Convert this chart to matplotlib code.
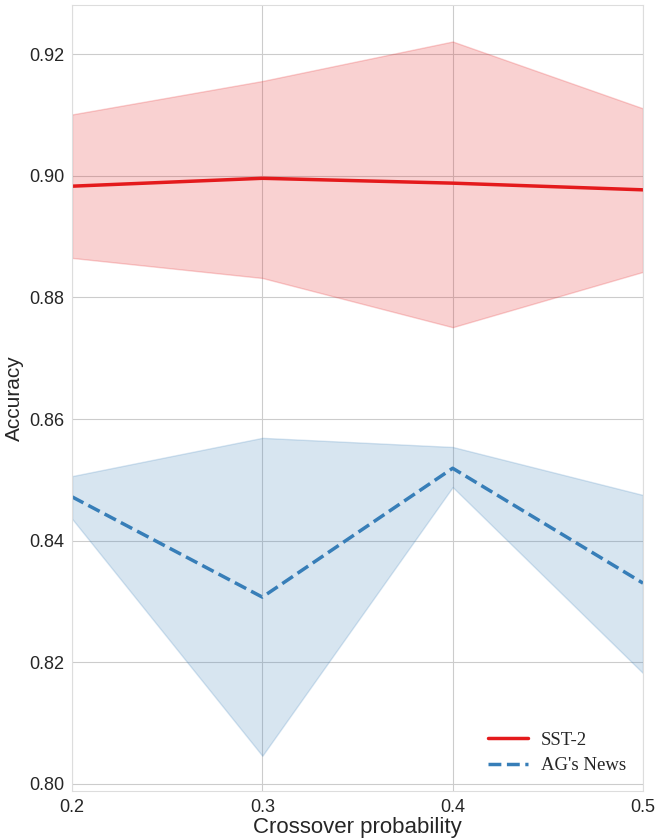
import matplotlib
matplotlib.use('Agg')
import matplotlib.pyplot as plt
import seaborn as sns

sns.set_style('whitegrid')
plt.rcParams['font.family'] = ['Liberation Sans', 'DejaVu Sans']

# Data
prob = [0.2, 0.3, 0.4, 0.5]

sst2_mean = [0.8983, 0.8996, 0.8988, 0.8977]
sst2_upper = [0.9101, 0.9156, 0.9221, 0.9111]
sst2_lower = [0.8865, 0.8832, 0.8751, 0.8842]

ag_mean = [0.8472, 0.8307, 0.8519, 0.8330]
ag_upper = [0.8506, 0.8569, 0.8554, 0.8475]
ag_lower = [0.8436, 0.8046, 0.8488, 0.8182]

red = '#e41a1c'
blue = '#377eb8'

fig = plt.figure(figsize=(6.57, 8.4), dpi=100)
ax = fig.add_axes([0.1096, 0.0583, 0.8691, 0.9357])

ax.fill_between(prob, sst2_lower, sst2_upper, color=red, alpha=0.2, linewidth=1)
ax.plot(prob, sst2_mean, '-', c=red, linewidth=2.5, label='SST-2')
ax.fill_between(prob, ag_lower, ag_upper, color=blue, alpha=0.2, linewidth=1)
ax.plot(prob, ag_mean, '--', c=blue, linewidth=2.5, label="AG's News")

ax.set_xlim(0.2, 0.5)
ax.set_ylim(0.7988, 0.9281)
ax.set_xticks([0.2, 0.3, 0.4, 0.5])
ax.set_yticks([0.80, 0.82, 0.84, 0.86, 0.88, 0.90, 0.92])
ax.set_yticklabels(['0.80', '0.82', '0.84', '0.86', '0.88', '0.90', '0.92'])

ax.set_xlabel('Crossover probability', fontsize=16, labelpad=1)
ax.set_ylabel('Accuracy', fontsize=15)
ax.tick_params(axis='both', labelsize=13, pad=2)

for s in ax.spines.values():
    s.set_color('#dddddd')

ax.legend(loc='lower right', frameon=False,
          prop={'family': 'Liberation Serif', 'size': 13.5},
          handlelength=2.15, handletextpad=0.7, labelspacing=0.45)

fig.savefig('out.png', dpi=100)
